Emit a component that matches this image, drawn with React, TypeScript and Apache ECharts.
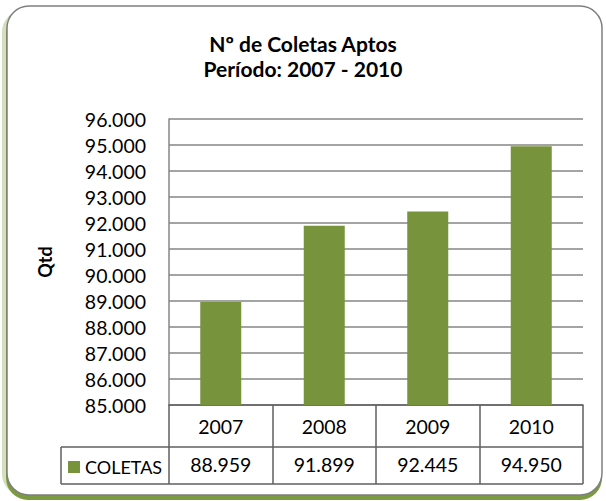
import React, { useEffect, useRef } from "react";
import * as echarts from "echarts";

const years = ["2007", "2008", "2009", "2010"];
const coletas = [88959, 91899, 92445, 94950];
const seriesName = "COLETAS";
const titleLines = ["Nº de Coletas Aptos", "Período: 2007 - 2010"];
const yAxisName = "Qtd";
const yMin = 85000;
const yMax = 96000;
const yStep = 1000;

const fmt = (n: number) =>
  String(Math.round(n)).replace(/\B(?=(\d{3})+(?!\d))/g, ".");

const FONT = "Lato, 'Open Sans', sans-serif";
const TABLE_LINE = "#5f5f5f";
const LABEL_SIZE = 19.5;

export default function App() {
  const ref = useRef<HTMLDivElement>(null);
  useEffect(() => {
    if (!ref.current) return;
    const chart = echarts.init(ref.current, undefined, { renderer: "svg" });
    const gridLeft = 169;
    const gridRight = 583;
    const gridTop = 119;
    const gridBottom = 405;
    const tableMid = 447;
    const tableBottom = 484;
    const tableLeft = 61;
    const titleStyle = {
      fontFamily: FONT,
      fontWeight: "bold",
      fontSize: 21,
      lineHeight: 25,
      color: "#000",
    };
    chart.setOption({
      animation: false,
      backgroundColor: "#ffffff",
      textStyle: { fontFamily: FONT },
      title: {
        text: titleLines[0],
        subtext: titleLines[1],
        left: "center",
        top: 31,
        itemGap: 0,
        padding: [0, 0, 0, 18],
        textStyle: titleStyle,
        subtextStyle: titleStyle,
      },
      legend: {
        show: true,
        left: 68,
        top: 458,
        itemWidth: 12,
        itemHeight: 12,
        icon: "rect",
        itemGap: 5,
        padding: 0,
        textStyle: { fontFamily: FONT, fontSize: 18, color: "#000" },
        data: [seriesName],
      },
      grid: {
        left: gridLeft,
        right: 606 - gridRight,
        top: gridTop,
        bottom: 501 - gridBottom,
        containLabel: false,
      },
      xAxis: [
        {
          type: "category",
          data: years,
          position: "bottom",
          axisLine: { show: true, lineStyle: { color: TABLE_LINE, width: 1.5 } },
          axisTick: {
            show: true,
            interval: 0,
            length: tableBottom - gridBottom,
            lineStyle: { color: TABLE_LINE, width: 1.5 },
          },
          axisLabel: {
            margin: 11,
            fontSize: LABEL_SIZE,
            color: "#000",
            fontFamily: FONT,
          },
        },
        {
          type: "category",
          data: years,
          position: "bottom",
          offset: 40,
          axisLine: { show: false },
          axisTick: { show: false },
          axisLabel: {
            margin: 9,
            fontSize: LABEL_SIZE,
            color: "#000",
            fontFamily: FONT,
            formatter: (_v: string, i: number) => fmt(coletas[i]),
          },
        },
      ],
      yAxis: {
        type: "value",
        min: yMin,
        max: yMax,
        interval: yStep,
        name: yAxisName,
        nameLocation: "middle",
        nameRotate: 90,
        nameGap: 115,
        nameTextStyle: {
          fontFamily: FONT,
          fontWeight: "bold",
          fontSize: 18,
          color: "#000",
        },
        axisLine: { show: true, lineStyle: { color: "#868686", width: 1.5 } },
        axisTick: { show: false },
        splitLine: { show: true, lineStyle: { color: "#868686", width: 1.5 } },
        axisLabel: {
          margin: 23,
          fontSize: LABEL_SIZE,
          color: "#000",
          fontFamily: FONT,
          formatter: (v: number) => fmt(v),
        },
      },
      series: [
        {
          name: seriesName,
          type: "bar",
          xAxisIndex: 0,
          data: coletas,
          barWidth: 41,
          itemStyle: { color: "#77933C" },
        },
      ],
      graphic: [
        {
          type: "rect",
          z: -11,
          silent: true,
          shape: { x: 2, y: 10, width: 596, height: 486, r: 22 },
          style: { fill: "#d3e0bb" },
        },
        {
          type: "rect",
          z: -10,
          silent: true,
          shape: { x: 6, y: 12, width: 596, height: 488, r: 22 },
          style: { fill: "#7c9a42" },
        },
        {
          type: "rect",
          z: -9,
          silent: true,
          shape: { x: 7, y: 6, width: 595, height: 489, r: 22 },
          style: { fill: "#ffffff", stroke: "#7f7f7f", lineWidth: 1.5 },
        },
        {
          type: "line",
          silent: true,
          shape: { x1: tableLeft, y1: tableMid, x2: gridRight, y2: tableMid },
          style: { stroke: TABLE_LINE, lineWidth: 1.5 },
        },
        {
          type: "line",
          silent: true,
          shape: { x1: tableLeft, y1: tableBottom, x2: gridRight, y2: tableBottom },
          style: { stroke: TABLE_LINE, lineWidth: 1.5 },
        },
        {
          type: "line",
          silent: true,
          shape: { x1: tableLeft, y1: tableMid, x2: tableLeft, y2: tableBottom },
          style: { stroke: TABLE_LINE, lineWidth: 1.5 },
        },
      ],
    });
    return () => chart.dispose();
  }, []);
  return (
    <div
      ref={ref}
      style={{ position: "absolute", left: 0, top: 0, width: 606, height: 501 }}
    />
  );
}
